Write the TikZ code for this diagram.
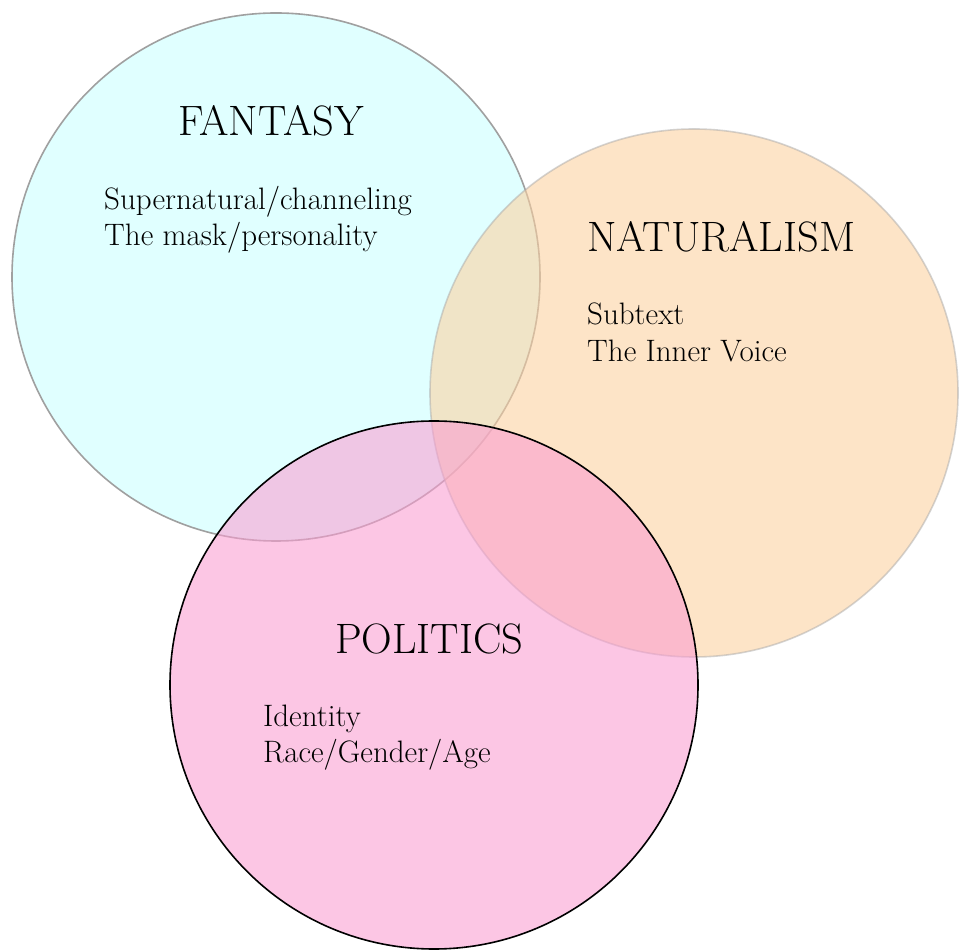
\documentclass[tikz,border=0pt]{standalone}
\usepackage{fontspec}
\definecolor{fantasyfill}{RGB}{224,255,255}
\definecolor{fantasyline}{RGB}{160,160,160}
\definecolor{natfill}{RGB}{252,209,160}
\definecolor{natline}{RGB}{170,170,170}
\definecolor{polfill}{RGB}{250,157,209}
\begin{document}
\begin{tikzpicture}[x=1pt,y=1pt,
  title/.style={font=\fontsize{42.5}{48}\selectfont, anchor=base west, inner sep=0pt},
  body/.style={font=\fontsize{31}{36}\selectfont, anchor=base west, inner sep=0pt}]
\useasboundingbox (0,0) rectangle (960,950);
\fill[white] (0,0) rectangle (960,950);
% Fantasy
\filldraw[fill=fantasyfill, draw=fantasyline, line width=1.6pt] (276,673) circle (264);
% Naturalism
\filldraw[fill=natfill, fill opacity=0.58, draw=natline, draw opacity=0.5, line width=1.6pt] (694,557) circle (264);
% Politics
\filldraw[fill=polfill, fill opacity=0.58, draw=black, line width=1.6pt] (434,265) circle (264);
% Texts
\node[title] (ft) at (178,814) {FANTASY};
\node[body] (f1) at (104,740) {Supernatural/channeling};
\node[body] (f2) at (104,704) {The mask/personality};
\node[title] (nt) at (587,698) {NATURALISM};
\node[body] (n1) at (587,625) {Subtext};
\node[body] (n2) at (587,588) {The Inner Voice};
\node[title] (pt) at (335,296) {POLITICS};
\node[body] (p1) at (263,223) {Identity};
\node[body] (p2) at (263,187) {Race/Gender/Age};
\end{tikzpicture}
\end{document}
